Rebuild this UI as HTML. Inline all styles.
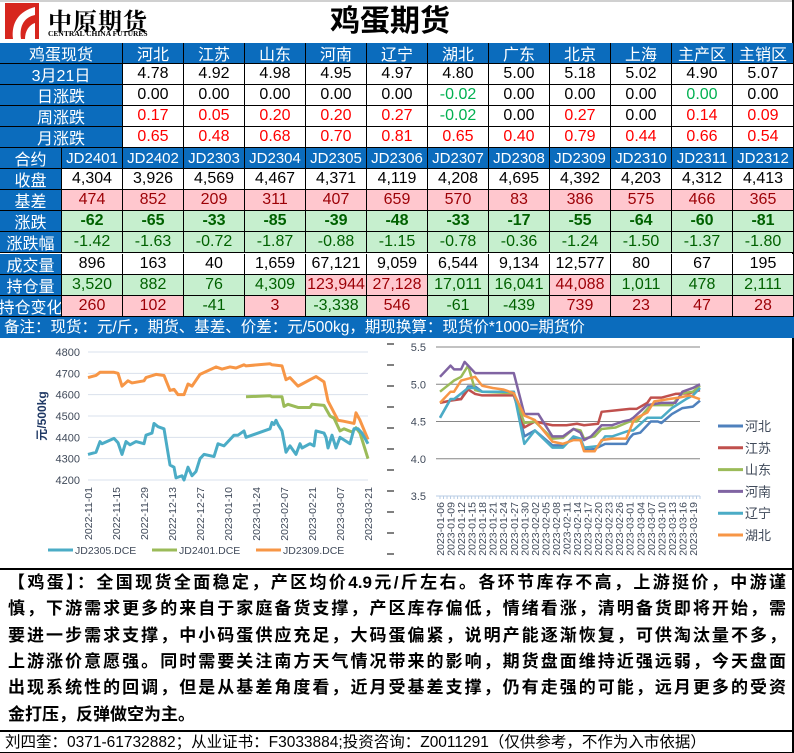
<!DOCTYPE html>
<html><head><meta charset="utf-8">
<style>
*{margin:0;padding:0;box-sizing:border-box}
body{width:794px;height:753px;background:#fff;position:relative;overflow:hidden;font-family:"Liberation Sans","Noto Sans CJK SC",sans-serif}
.c{position:absolute;display:flex;align-items:center;justify-content:center;border-right:1px solid #000;border-bottom:1px solid #000;font-size:16px;white-space:nowrap;overflow:hidden}
.b{background:#0b6cbd;color:#fff}
.w{background:#fff;color:#000}
.p{background:#ffc7ce;color:#9c0006}
.g{background:#c6efce;color:#006100}
.txt{position:absolute;left:8px;width:778px;font-size:17px;font-weight:600;line-height:26.3px;color:#000;text-align:justify;text-align-last:justify;font-family:"Liberation Sans","Noto Sans CJK SC",sans-serif}
svg text{font-family:"Liberation Sans","Noto Sans CJK SC",sans-serif}
</style></head><body>
<div style="position:absolute;left:0;top:0;width:794px;height:2px;background:#d0d0d0"></div>
<div style="position:absolute;left:5px;top:3px;width:34px;height:36px;background:#d7261e">
 <svg width="34" height="36"><path d="M8 36 C6 20 14 8 30 4 L30 12 C20 14 14 22 16 36 Z" fill="#fff"/><path d="M20 36 C20 28 24 22 30 20 L30 36Z" fill="#fff"/></svg>
</div>
<div style="position:absolute;left:48px;top:2px;font-size:24px;font-weight:bold;letter-spacing:1px;font-family:'Liberation Serif','Noto Serif CJK SC',serif">中原期货</div>
<div style="position:absolute;left:48px;top:29px;font-size:7.5px;font-weight:bold;font-family:'Liberation Serif',serif">CENTRAL CHINA FUTURES</div>
<div style="position:absolute;left:330px;top:4px;font-size:30px;font-weight:bold;line-height:36px">鸡蛋期货</div>
<div style="position:absolute;left:792px;top:0;width:2px;height:753px;background:#000"></div>
<div id="tbl"></div>

<div style="position:absolute;left:0;top:336px;width:394px;height:232px">
<svg id="lc" width="394" height="232"></svg></div>
<div style="position:absolute;left:394px;top:336px;width:400px;height:232px">
<svg id="rc" width="400" height="232"></svg></div>
<div style="position:absolute;left:0;top:568px;width:794px;height:2px;background:#000"></div>

<div>
<div class="txt" style="top:570px">【鸡蛋】：全国现货全面稳定，产区均价4.9元/斤左右。各环节库存不高，上游挺价，中游谨</div>
<div class="txt" style="top:596.3px">慎，下游需求更多的来自于家庭备货支撑，产区库存偏低，情绪看涨，清明备货即将开始，需</div>
<div class="txt" style="top:622.6px">要进一步需求支撑，中小码蛋供应充足，大码蛋偏紧，说明产能逐渐恢复，可供淘汰量不多，</div>
<div class="txt" style="top:648.9px">上游涨价意愿强。同时需要关注南方天气情况带来的影响，期货盘面维持近强远弱，今天盘面</div>
<div class="txt" style="top:675.2px">出现系统性的回调，但是从基差角度看，近月受基差支撑，仍有走强的可能，远月更多的受资</div>
<div class="txt" style="top:701.5px;text-align-last:left">金打压，反弹做空为主。</div>
</div>
<div style="position:absolute;left:0;top:730px;width:794px;height:23px;border-top:2px solid #000;border-bottom:1px solid #000;font-size:15.5px;padding-left:5px;line-height:21px;white-space:nowrap">刘四奎：0371-61732882；从业证书：F3033884;投资咨询：Z0011291（仅供参考，不作为入市依据）</div>

<script>
const regions=["河北","江苏","山东","河南","辽宁","湖北","广东","北京","上海","主产区","主销区"];
const spot=["4.78","4.92","4.98","4.95","4.97","4.80","5.00","5.18","5.02","4.90","5.07"];
const dayChg=["0.00","0.00","0.00","0.00","0.00","-0.02","0.00","0.00","0.00","0.00","0.00"];
const weekChg=["0.17","0.05","0.20","0.20","0.27","-0.02","0.00","0.27","0.00","0.14","0.09"];
const monthChg=["0.65","0.48","0.68","0.70","0.81","0.65","0.40","0.79","0.44","0.66","0.54"];
const contracts=["JD2401","JD2402","JD2303","JD2304","JD2305","JD2306","JD2307","JD2308","JD2309","JD2310","JD2311","JD2312"];
const closes=["4,304","3,926","4,569","4,467","4,371","4,119","4,208","4,695","4,392","4,203","4,312","4,413"];
const basis=["474","852","209","311","407","659","570","83","386","575","466","365"];
const chg=["-62","-65","-33","-85","-39","-48","-33","-17","-55","-64","-60","-81"];
const chgPct=["-1.42","-1.63","-0.72","-1.87","-0.88","-1.15","-0.78","-0.36","-1.24","-1.50","-1.37","-1.80"];
const volume=["896","163","40","1,659","67,121","9,059","6,544","9,134","12,577","80","67","195"];
const oi=["3,520","882","76","4,309","123,944","27,128","17,011","16,041","44,088","1,011","478","2,111"];
const oiChg=["260","102","-41","3","-3,338","546","-61","-439","739","23","47","28"];

const tbl=document.getElementById('tbl');
const X=[0,62,123,184,245,306,367,428,489,550,611,672,733,794];
const RH=21.05, Y0=43;
function cell(x,y,w,h,text,cls,color,name,bold,fs){
  const d=document.createElement('div');
  d.className='c '+cls;
  d.style.left=x+'px';d.style.top=y+'px';d.style.width=w+'px';d.style.height=h+'px';
  if(color)d.style.color=color;
  if(bold)d.style.fontWeight='bold';
  if(fs)d.style.fontSize=fs+'px';
  d.textContent=text;
  
  
  tbl.appendChild(d);
}
function spotRow(r,label,vals,colorFn){
  const y=Y0+r*RH;
  cell(0,y,123,RH,label,'b',null,'row-label-'+r);
  vals.forEach((v,i)=>{
    cell(X[i+2],y,X[i+3]-X[i+2],RH,v,r===0?'b':'w',colorFn?colorFn(v,i):null,'spot-cell-'+r+'-'+i);
  });
}
spotRow(0,"鸡蛋现货",regions);
spotRow(1,"3月21日",spot);
spotRow(2,"日涨跌",dayChg,(v,i)=>v.startsWith('-')||i===9?'#00b050':'#000');
spotRow(3,"周涨跌",weekChg,v=>v.startsWith('-')?'#00b050':(v==='0.00'?'#000':'#ff0000'));
spotRow(4,"月涨跌",monthChg,()=>'#ff0000');
function futRow(r,label,vals,clsFn,bold,fs){
  const y=Y0+r*RH;
  cell(0,y,62,RH,label,'b',null,'row-label-'+r);
  vals.forEach((v,i)=>{
    cell(X[i+1],y,X[i+2]-X[i+1],RH,v,clsFn(v,i),null,'futures-cell-'+r+'-'+i,bold,fs);
  });
}
futRow(5,"合约",contracts,()=>'b',false,15);
futRow(6,"收盘",closes,()=>'w');
futRow(7,"基差",basis,()=>'p');
futRow(8,"涨跌",chg,()=>'g',true);
futRow(9,"涨跌幅",chgPct,()=>'g');
futRow(10,"成交量",volume,()=>'w');
const oiPink=[4,5,8];
futRow(11,"持仓量",oi,(v,i)=>oiPink.includes(i)?'p':'g');
futRow(12,"持仓变化",oiChg,v=>v.startsWith('-')?'g':'p');
(function(){
  const d=document.createElement('div');
  d.style.cssText='position:absolute;left:0;top:'+(Y0+13*RH)+'px;width:794px;height:21px;background:#0b6cbd;color:#fff;font-size:15.5px;line-height:21px;padding-left:4px;white-space:nowrap';
  d.textContent='备注：现货：元/斤，期货、基差、价差：元/500kg，期现换算：现货价*1000=期货价';
  
  
  tbl.appendChild(d);
})();

const lcTicks=["2022-11-01","2022-11-15","2022-11-29","2022-12-13","2022-12-27","2023-01-10","2023-01-24","2023-02-07","2023-02-21","2023-03-07","2023-03-21"];
const lcYTicks=[4200,4300,4400,4500,4600,4700,4800];
const jd2305Days=[0,4,6,7,13,15,17,19,21,24,28,29,32,33,35,38,41,43,44,47,48,50,52,54,56,58,63,65,68,71,73,75,78,79,91,92,93,94,95,97,99,101,104,106,107,111,113,114,118,119,120,122,124,126,131,133,135,137,140];
const jd2305Vals=[4320,4330,4380,4370,4395,4375,4320,4380,4365,4380,4370,4410,4420,4465,4450,4440,4270,4260,4210,4220,4200,4260,4220,4240,4300,4320,4310,4370,4360,4390,4410,4410,4430,4400,4440,4470,4460,4480,4460,4430,4330,4360,4320,4370,4350,4370,4360,4430,4420,4400,4350,4410,4350,4400,4370,4440,4440,4420,4370];
const jd2401Days=[79,91,92,97,98,100,105,111,112,118,121,123,126,128,132,134,136,140];
const jd2401Vals=[4590,4595,4590,4590,4545,4555,4540,4540,4555,4550,4500,4490,4430,4440,4425,4445,4420,4300];
const jd2309Days=[0,4,6,13,15,17,20,22,28,29,34,38,41,43,45,48,50,52,56,64,67,71,74,78,79,91,92,97,99,101,105,107,111,114,118,120,125,128,133,134,136,140];
const jd2309Vals=[4680,4690,4705,4705,4700,4640,4665,4655,4665,4680,4695,4690,4620,4625,4600,4600,4650,4640,4695,4730,4720,4730,4725,4740,4735,4745,4740,4735,4670,4680,4640,4650,4670,4685,4660,4570,4480,4475,4465,4515,4480,4390];

const NS='http://www.w3.org/2000/svg';
function el(svg,tag,attrs){const e=document.createElementNS(NS,tag);for(const k in attrs)e.setAttribute(k,attrs[k]);svg.appendChild(e);return e;}

(function(){
  const svg=document.getElementById('lc');
  const x0=88,x1=368,yTop=16,yBot=144;
  const xs=d=>x0+d*(x1-x0)/140;
  const ys=v=>yBot-(v-4200)*(yBot-yTop)/600;
  lcYTicks.forEach(v=>{
    const l=el(svg,'line',{x1:x0,x2:x1,y1:ys(v),y2:ys(v),stroke:'#d9e1ec','stroke-width':1});
    
    
    const t=el(svg,'text',{x:x0-8,y:ys(v)+4,'text-anchor':'end','font-size':11,fill:'#404a5a'});
    t.textContent=v;
    
    
  });
  lcTicks.forEach((s,i)=>{
    const x=xs(i*14);
    const t=el(svg,'text',{transform:'translate('+(x+4)+',151) rotate(-90)','text-anchor':'end','font-size':10.5,fill:'#404a5a'});
    t.textContent=s;
    
    
  });
  const yt=el(svg,'text',{transform:'translate(46,80) rotate(-90)','text-anchor':'middle','font-size':12,'font-weight':'bold',fill:'#1f3864'});
  yt.textContent='元/500kg';
  
  
  function series(days,vals,color,name){
    const p=el(svg,'polyline',{points:days.map((d,i)=>xs(d)+','+ys(vals[i])).join(' '),fill:'none',stroke:color,'stroke-width':3,'stroke-linejoin':'round'});
    
    
  }
  series(jd2309Days,jd2309Vals,'#f79646','line-jd2309');
  series(jd2401Days,jd2401Vals,'#9bbb59','line-jd2401');
  series(jd2305Days,jd2305Vals,'#4bacc6','line-jd2305');
  const leg=[["JD2305.DCE",'#4bacc6',48],["JD2401.DCE",'#9bbb59',152],["JD2309.DCE",'#f79646',256]];
  leg.forEach(([n,c,x])=>{
    const l=el(svg,'line',{x1:x,x2:x+25,y1:214,y2:214,stroke:c,'stroke-width':3});
    
    
    const t=el(svg,'text',{x:x+27,y:218,'font-size':10.5,fill:'#404a5a'});
    t.textContent=n;
    
    
  });
  for(let i=0;i<11;i++){
    const l=el(svg,'line',{x1:387,x2:394,y1:8+i*21,y2:8+i*21,stroke:'#000','stroke-width':1});
    
    
  }
})();

const rcYTicks=[3.5,4.0,4.5,5.0,5.5];
const rcTickDays=[0,3,6,9,12,15,18,21,24,27,30,33,36,39,42,45,48,51,54,57,60,63,66,69,72];
const rcTickLabels=["2023-01-06","2023-01-09","2023-01-12","2023-01-15","2023-01-18","2023-01-21","2023-01-24","2023-01-27","2023-01-30","2023-02-02","2023-02-05","2023-02-08","2023-02-11","2023-02-14","2023-02-17","2023-02-20","2023-02-23","2023-02-26","2023-03-01","2023-03-04","2023-03-07","2023-03-10","2023-03-13","2023-03-16","2023-03-19"];
const hebeiDays=[0,3,6,8,10,12,21,24,27,32,35,38,40,41,44,47,50,53,54,55,57,60,62,63,66,69,72,74];
const hebeiVals=[4.55,4.8,4.8,4.97,4.97,4.9,4.9,4.3,4.38,4.18,4.18,4.27,4.25,4.12,4.13,4.2,4.2,4.2,4.28,4.33,4.35,4.5,4.5,4.48,4.6,4.68,4.7,4.78];
const jiangsuDays=[0,3,6,8,10,12,21,24,27,32,36,39,41,45,46,50,54,56,59,60,63,67,71,74];
const jiangsuVals=[4.75,4.78,4.8,4.93,4.87,4.85,4.85,4.42,4.5,4.45,4.45,4.47,4.45,4.47,4.63,4.65,4.67,4.67,4.75,4.82,4.82,4.87,4.88,4.92];
const shandongDays=[0,4,6,8,10,12,21,24,27,32,35,38,40,41,44,46,50,54,56,60,66,69,72,74];
const shandongVals=[4.9,5.05,5.1,5.25,4.92,4.9,4.88,4.48,4.5,4.27,4.28,4.4,4.38,4.27,4.3,4.4,4.42,4.5,4.5,4.72,4.72,4.88,4.9,4.98];
const henanDays=[0,3,4,6,7,10,21,24,28,32,35,38,40,41,43,46,49,52,54,55,59,63,67,69,72,74];
const henanVals=[5.1,5.25,5.2,5.2,5.3,5.15,5.15,4.6,4.6,4.3,4.3,4.4,4.35,4.25,4.3,4.45,4.45,4.5,4.52,4.55,4.72,4.75,4.75,4.9,4.95,5.0];
const liaoningDays=[0,3,4,8,10,12,21,24,27,32,35,38,40,41,45,47,49,54,55,59,63,66,70,72,74];
const liaoningVals=[4.55,4.8,4.8,4.95,4.95,4.9,4.9,4.2,4.38,4.15,4.15,4.3,4.27,4.15,4.17,4.3,4.3,4.38,4.38,4.55,4.55,4.68,4.8,4.85,4.95];
const hubeiDays=[0,3,4,6,10,12,15,18,21,24,27,32,35,38,40,41,44,46,49,53,55,56,59,61,65,68,71,74];
const hubeiVals=[4.75,4.9,4.9,5.05,5.1,4.98,4.95,4.93,4.88,4.58,4.52,4.23,4.2,4.25,4.25,4.1,4.1,4.25,4.27,4.27,4.5,4.55,4.62,4.77,4.8,4.82,4.85,4.8];

(function(){
  const svg=document.getElementById('rc');
  const x0=46,x1=306,yTop=11,yBot=160;
  const xs=d=>x0+d*(x1-x0)/74;
  const ys=v=>yBot-(v-3.5)*(yBot-yTop)/2;
  rcYTicks.forEach(v=>{
    const l=el(svg,'line',{x1:x0-4,x2:x1,y1:ys(v),y2:ys(v),stroke:v===3.5?'#b8cce4':'#868686','stroke-width':1});
    
    
    const t=el(svg,'text',{x:x0-14,y:ys(v)+4,'text-anchor':'end','font-size':11,fill:'#404a5a'});
    t.textContent=v.toFixed(1);
    
    
  });
  for(let d=0;d<=74;d++){
    const l=el(svg,'line',{x1:xs(d),x2:xs(d),y1:yBot,y2:yBot+3,stroke:'#b8cce4','stroke-width':1});
    
    
  }
  rcTickDays.forEach((d,i)=>{
    const x=xs(d);
    const t=el(svg,'text',{transform:'translate('+(x+4)+',166) rotate(-90)','text-anchor':'end','font-size':10.5,fill:'#404a5a'});
    t.textContent=rcTickLabels[i];
    
    
  });
  const ser=[["河北",hebeiDays,hebeiVals,'#4f81bd'],["江苏",jiangsuDays,jiangsuVals,'#c0504d'],["山东",shandongDays,shandongVals,'#9bbb59'],["河南",henanDays,henanVals,'#8064a2'],["辽宁",liaoningDays,liaoningVals,'#4bacc6'],["湖北",hubeiDays,hubeiVals,'#f79646']];
  ser.forEach(([n,days,vals,c],k)=>{
    const p=el(svg,'polyline',{points:days.map((d,i)=>xs(d)+','+ys(vals[i])).join(' '),fill:'none',stroke:c,'stroke-width':2.5,'stroke-linejoin':'round'});
    
    
    const y=90+k*21.8;
    const l=el(svg,'line',{x1:324,x2:349,y1:y,y2:y,stroke:c,'stroke-width':3});
    
    
    const t=el(svg,'text',{x:351,y:y+5,'font-size':13,fill:'#404a5a'});
    t.textContent=n;
    
    
  });
})();
</script>
</body></html>
